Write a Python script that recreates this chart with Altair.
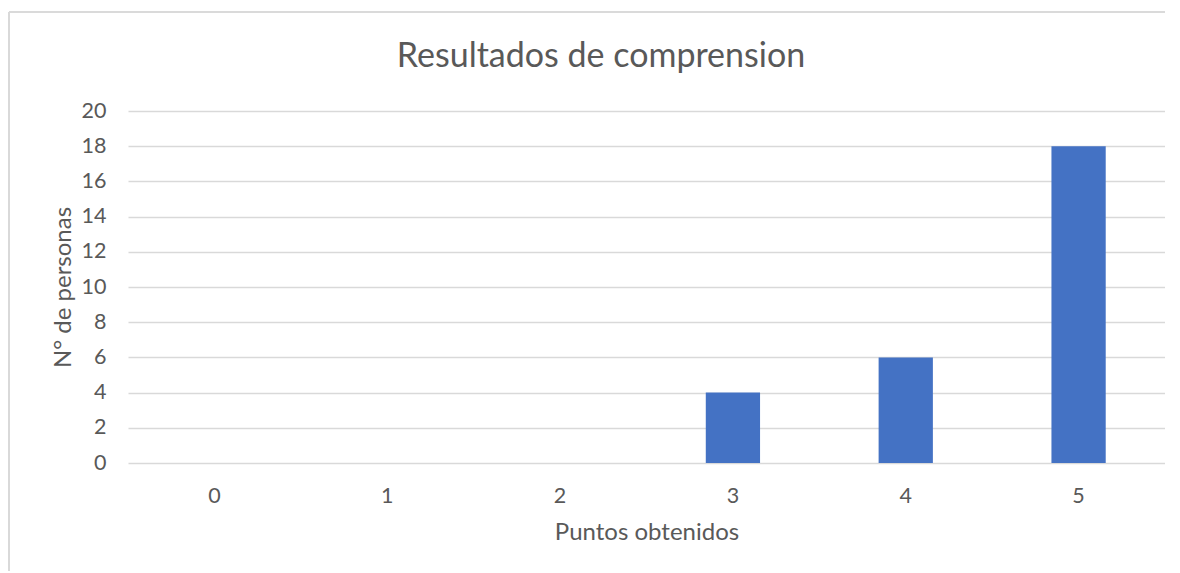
import altair as alt
import pandas as pd

puntos = ["0", "1", "2", "3", "4", "5"]
personas = [0, 0, 0, 4, 6, 18]
y_ticks = [0, 2, 4, 6, 8, 10, 12, 14, 16, 18, 20]
chart_title = "Resultados de comprension"

df = pd.DataFrame({"Puntos obtenidos": puntos, "N° de personas": personas})

FONT = "Lato"
GREY = "#595959"

bars = alt.Chart(df).mark_bar(
    color="#4472C4", width=alt.RelativeBandSize(0.314)
).encode(
    x=alt.X("Puntos obtenidos:N", sort=puntos,
            scale=alt.Scale(paddingInner=0, paddingOuter=0),
            axis=alt.Axis(labelAngle=0, labelFontSize=21.5, labelColor=GREY,
                          labelFont=FONT, labelPadding=22, ticks=False, domain=False,
                          title="Puntos obtenidos", titleFontSize=24, titleFont=FONT,
                          titleColor=GREY, titleFontWeight="normal", titlePadding=14)),
    y=alt.Y("N° de personas:Q",
            scale=alt.Scale(domain=[0, 20], nice=False),
            axis=alt.Axis(values=y_ticks, labelFontSize=21.5, labelColor=GREY,
                          labelFont=FONT, labelPadding=22, ticks=False, domain=False,
                          gridColor="#D9D9D9", gridWidth=1.3,
                          title="N° de personas", titleFontSize=24, titleFont=FONT,
                          titleColor=GREY, titleFontWeight="normal", titlePadding=6)),
)

title_df = pd.DataFrame({"t": [chart_title]})
title = alt.Chart(title_df).mark_text(
    font=FONT, fontSize=34, color=GREY, align="center", baseline="alphabetic"
).encode(text="t:N", x=alt.value(473), y=alt.value(-44))

border_top = alt.Chart(df).mark_rule(color="#D9D9D9", strokeWidth=1.2).encode(
    x=alt.value(-119), x2=alt.value(1037), y=alt.value(-99)
)
border_left = alt.Chart(df).mark_rule(color="#D9D9D9", strokeWidth=1.2).encode(
    x=alt.value(-119), y=alt.value(-99), y2=alt.value(460)
)

chart = alt.layer(bars, title, border_top, border_left).properties(
    width=1037,
    height=352,
    autosize=alt.AutoSizeParams(type="none"),
    padding={"left": 120, "top": 103, "right": 0, "bottom": 108},
).configure_view(stroke=None)

chart.save("out.html", embed_options={"renderer": "svg", "actions": False})
